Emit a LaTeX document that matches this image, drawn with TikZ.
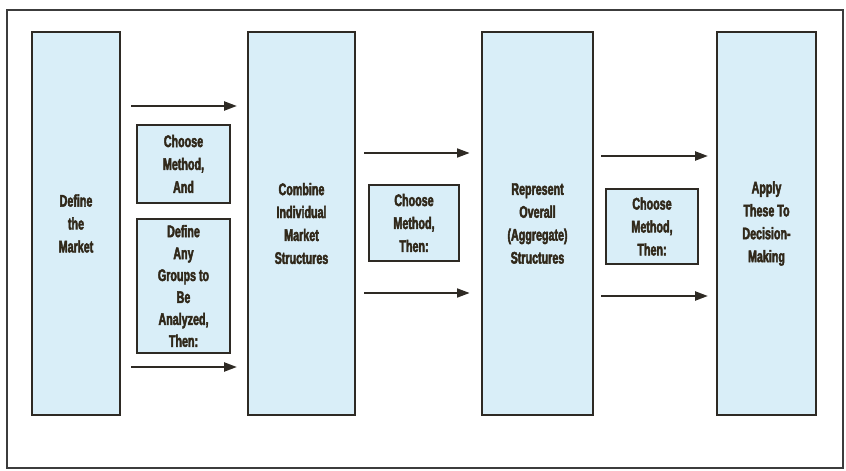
\documentclass[tikz,border=0pt]{standalone}
\usepackage{fontspec}
\setmainfont{Liberation Sans}[UprightFont=* Bold,BoldFont=* Bold,FakeStretch=0.64,FakeBold=2.6]
\usepackage{xcolor}
\usepackage{tikz}
\usetikzlibrary{positioning,arrows.meta,calc}
\definecolor{ink}{HTML}{30281A}
\definecolor{edge}{HTML}{2E2A24}
\definecolor{sky}{HTML}{D9EEF8}
\definecolor{frame}{HTML}{3C3C3C}

\begin{document}
\begin{tikzpicture}[
  x=0.025cm,y=-0.025cm,
  font=\fontsize{11.9}{16.3}\selectfont,
  stage/.style={draw=edge,line width=1.4pt,fill=sky,minimum height=9.575cm,inner sep=0pt,align=center,text=ink},
  note/.style={draw=edge,line width=1.4pt,fill=sky,inner sep=0pt,align=center,text=ink},
  arr/.style={-{Triangle[length=3.2mm,width=2.2mm]},line width=1.7pt,edge}
]
\useasboundingbox (0,0) rectangle (846,471);
\draw[frame,line width=1.1pt] (7,10) rectangle (843,468);
% main stages
\node[stage,minimum width=2.2cm] (def) at (76,223.5) {Define\\the\\Market};
\node[stage,minimum width=2.675cm] (comb) at (301.5,223.5) {Combine\\Individual\\Market\\Structures};
\node[stage,minimum width=2.775cm] (rep) at (537.5,223.5) {Represent\\Overall\\(Aggregate)\\Structures};
\node[stage,minimum width=2.475cm] (app) at (766.5,223.5) {Apply\\These To\\Decision-\\Making};
% method boxes
\node[note,minimum width=2.325cm,minimum height=1.95cm] (cm1) at (183.5,164) {Choose\\Method,\\And};
\node[note,minimum width=2.325cm,minimum height=3.35cm,below=0.35cm of cm1,font=\fontsize{11.9}{15.6}\selectfont] (grp) {Define\\Any\\Groups to\\Be\\Analyzed,\\Then:};
\node[note,minimum width=2.25cm,minimum height=1.9cm] (cm2) at (414,223) {Choose\\Method,\\Then:};
\node[note,minimum width=2.3cm,minimum height=1.875cm] (cm3) at (652,226.5) {Choose\\Method,\\Then:};
% arrow rows
\coordinate (a1) at (0,106);
\coordinate (b1) at (0,367);
\coordinate (a2) at (0,153);
\coordinate (b2) at (0,293);
\coordinate (a3) at (0,156);
\coordinate (b3) at (0,296);
\draw[arr,shorten <=0.25cm,shorten >=0.25cm] (def.east |- a1) -- (comb.west |- a1);
\draw[arr,shorten <=0.25cm,shorten >=0.25cm] (def.east |- b1) -- (comb.west |- b1);
\draw[arr,shorten <=0.2cm,shorten >=0.28cm] (comb.east |- a2) -- (rep.west |- a2);
\draw[arr,shorten <=0.2cm,shorten >=0.28cm] (comb.east |- b2) -- (rep.west |- b2);
\draw[arr,shorten <=0.18cm,shorten >=0.2cm] (rep.east |- a3) -- (app.west |- a3);
\draw[arr,shorten <=0.18cm,shorten >=0.2cm] (rep.east |- b3) -- (app.west |- b3);
\end{tikzpicture}
\end{document}
